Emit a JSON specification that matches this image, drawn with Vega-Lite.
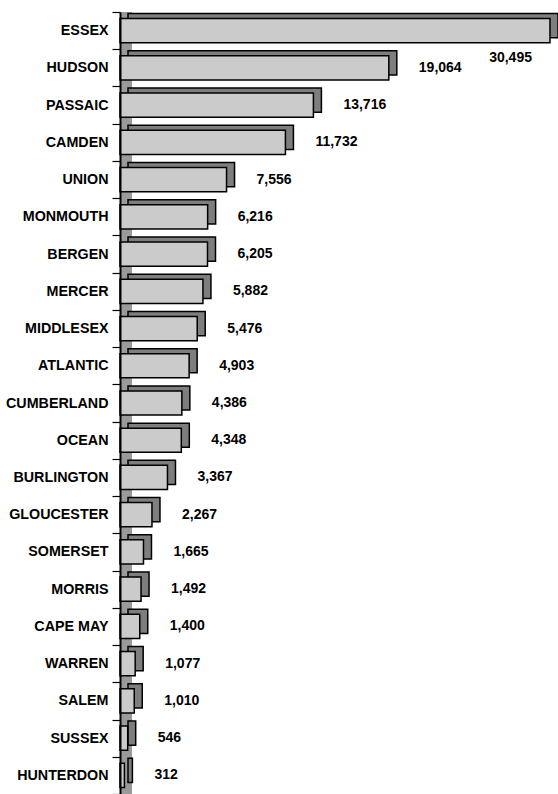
{
  "$schema": "https://vega.github.io/schema/vega-lite/v6.json",
  "width": 438,
  "height": 782,
  "autosize": {"type": "none"},
  "padding": {"left": 120, "top": 12, "right": 0, "bottom": 0},
  "background": "white",
  "config": {"view": {"stroke": null}, "font": "Liberation Sans"},
  "data": {
    "values": [
      {"county": "ESSEX", "cases": 30495},
      {"county": "HUDSON", "cases": 19064},
      {"county": "PASSAIC", "cases": 13716},
      {"county": "CAMDEN", "cases": 11732},
      {"county": "UNION", "cases": 7556},
      {"county": "MONMOUTH", "cases": 6216},
      {"county": "BERGEN", "cases": 6205},
      {"county": "MERCER", "cases": 5882},
      {"county": "MIDDLESEX", "cases": 5476},
      {"county": "ATLANTIC", "cases": 4903},
      {"county": "CUMBERLAND", "cases": 4386},
      {"county": "OCEAN", "cases": 4348},
      {"county": "BURLINGTON", "cases": 3367},
      {"county": "GLOUCESTER", "cases": 2267},
      {"county": "SOMERSET", "cases": 1665},
      {"county": "MORRIS", "cases": 1492},
      {"county": "CAPE MAY", "cases": 1400},
      {"county": "WARREN", "cases": 1077},
      {"county": "SALEM", "cases": 1010},
      {"county": "SUSSEX", "cases": 546},
      {"county": "HUNTERDON", "cases": 312}
    ]
  },
  "encoding": {
    "y": {
      "field": "county",
      "type": "nominal",
      "sort": null,
      "scale": {"paddingInner": 0, "paddingOuter": 0},
      "axis": {
        "title": null,
        "tickBand": "extent",
        "tickSize": 8,
        "tickColor": "black",
        "tickWidth": 1.2,
        "domainColor": "black",
        "domainWidth": 2,
        "labelPadding": 4,
        "labelFont": "Liberation Sans",
        "labelFontWeight": "bold",
        "labelFontSize": 14.3,
        "labelColor": "black",
        "zindex": 1
      }
    }
  },
  "layer": [
    {
      "mark": {"type": "rule", "color": "#9a9a9a", "strokeWidth": 12, "xOffset": 6},
      "encoding": {"x": {"datum": 0, "type": "quantitative", "scale": {"domain": [0, 31063], "nice": false}, "axis": null}, "y": null}
    },
    {
      "mark": {"type": "bar", "height": {"band": 0.65}, "xOffset": 8, "yOffset": -5, "fill": "#7e7e7e", "stroke": "black", "strokeWidth": 1.5},
      "encoding": {"x": {"field": "cases", "type": "quantitative", "scale": {"domain": [0, 31063], "nice": false}, "axis": null}}
    },
    {
      "mark": {"type": "bar", "height": {"band": 0.65}, "fill": "#cbcbcb", "stroke": "black", "strokeWidth": 1.5},
      "encoding": {"x": {"field": "cases", "type": "quantitative"}}
    },
    {
      "transform": [{"filter": "datum.county !== 'ESSEX'"}],
      "mark": {"type": "text", "align": "left", "baseline": "middle", "dx": 30, "fontWeight": "bold", "fontSize": 14, "color": "black"},
      "encoding": {
        "x": {"field": "cases", "type": "quantitative"},
        "text": {"field": "cases", "type": "quantitative", "format": ","}
      }
    },
    {
      "transform": [{"filter": "datum.county === 'ESSEX'"}],
      "mark": {"type": "text", "align": "right", "baseline": "middle", "dx": -18, "dy": 27, "fontWeight": "bold", "fontSize": 14, "color": "black"},
      "encoding": {
        "x": {"field": "cases", "type": "quantitative"},
        "text": {"field": "cases", "type": "quantitative", "format": ","}
      }
    }
  ]
}
